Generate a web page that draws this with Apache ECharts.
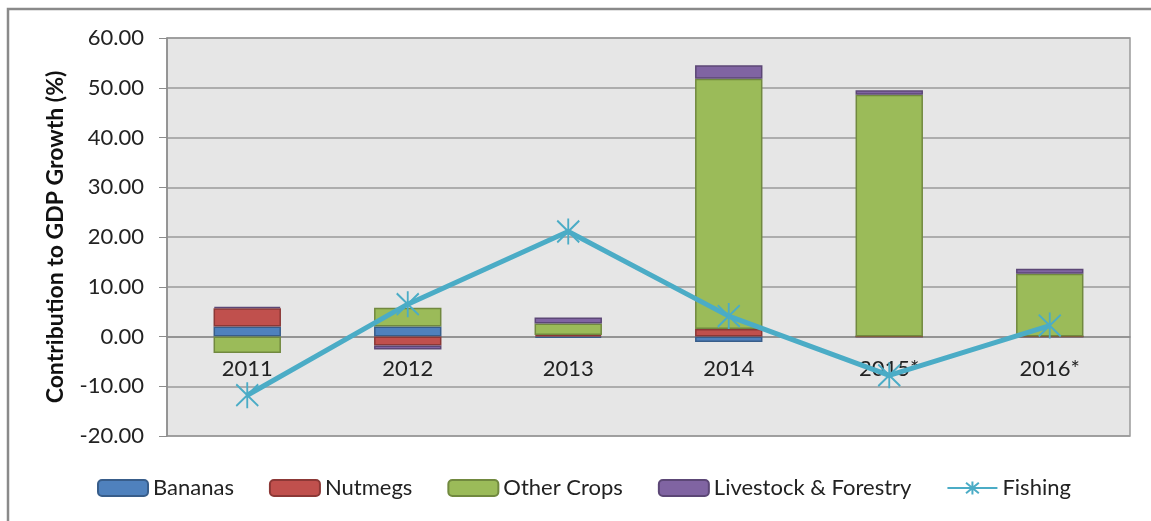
<!DOCTYPE html>
<html>
<head>
<meta charset="utf-8">
<script src="https://cdn.jsdelivr.net/npm/echarts@6/dist/echarts.min.js"></script>
<style>
	html, body { margin: 0; padding: 0; background: #fff; }
	#gdp-chart { width: 1151px; height: 521px; }
</style>
</head>
<body>
<div id="gdp-chart"></div>
<script>
var years = ['2011', '2012', '2013', '2014', '2015*', '2016*'];
var bananas = [2.0, 2.0, -0.3, -1.1, 0, 0];
var nutmegs = [3.7, -1.8, 0.3, 1.5, 0, 0];
var otherCrops = [-3.3, 3.8, 2.3, 50.3, 48.6, 12.6];
var livestock = [0.3, -0.8, 1.2, 2.7, 0.9, 1.0];
var fishing = [-11.8, 6.5, 21.1, 4.1, -7.8, 2.2];
var yTicks = [-20, 60, 10]; // min, max, step

var fontName = 'Lato';

function stackBar(name, data, fill, edge) {
	return {
		name: name,
		type: 'bar',
		stack: 'gdp',
		barWidth: '42%',
		data: data,
		itemStyle: {
			color: fill,
			borderColor: edge,
			borderWidth: 1.5
		}
	};
}

function initGdpChart() {
	var gdpOption = {
		animation: false,
		textStyle: { fontFamily: fontName },
		graphic: [{
			type: 'rect',
			shape: { x: 8, y: 9, width: 1300, height: 700 },
			style: { fill: 'none', stroke: '#8a8a8a', lineWidth: 2.5 },
			silent: true
		}],
		grid: {
			left: 167,
			top: 38,
			right: 21,
			bottom: 85,
			show: true,
			backgroundColor: '#e6e6e6',
			borderColor: '#9a9a9a',
			borderWidth: 1.5
		},
		legend: {
			left: 97,
			top: 477,
			padding: 0,
			itemWidth: 50,
			itemHeight: 16,
			itemGap: 35,
			textStyle: { fontSize: 22, color: '#222', fontFamily: fontName },
			data: ['Bananas', 'Nutmegs', 'Other Crops', 'Livestock & Forestry', 'Fishing']
		},
		xAxis: {
			type: 'category',
			data: years,
			axisLine: { onZero: false, lineStyle: { color: '#8c8c8c', width: 1.5 } },
			axisTick: { length: 6, lineStyle: { color: '#8c8c8c' } },
			axisLabel: { margin: 21, fontSize: 22, color: '#222' }
		},
		yAxis: {
			type: 'value',
			min: yTicks[0],
			max: yTicks[1],
			interval: yTicks[2],
			name: 'Contribution to GDP Growth (%)',
			nameLocation: 'middle',
			nameGap: 100,
			nameTextStyle: { fontSize: 23, fontWeight: 'bold', color: '#111' },
			axisLine: { show: true, lineStyle: { color: '#8c8c8c', width: 1.5 } },
			axisTick: { show: true, length: 8, lineStyle: { color: '#8c8c8c' } },
			axisLabel: {
				margin: 23,
				fontSize: 22,
				color: '#222',
				formatter: function(v) { return v.toFixed(2); }
			},
			splitLine: { lineStyle: { color: '#9a9a9a', width: 1.5 } }
		},
		series: [
			stackBar('Bananas', bananas, '#4F81BD', '#385D8A'),
			stackBar('Nutmegs', nutmegs, '#C0504D', '#8C3836'),
			stackBar('Other Crops', otherCrops, '#9BBB59', '#71893F'),
			stackBar('Livestock & Forestry', livestock, '#8064A2', '#5C4776'),
			{
				name: 'Fishing',
				type: 'line',
				data: fishing,
				z: 5,
				symbol: 'path://M0,0L20,20M20,0L0,20M10,-2L10,22',
				symbolSize: [22, 26],
				symbolKeepAspect: false,
				lineStyle: { color: '#4BACC6', width: 5 },
				itemStyle: {
					color: 'rgba(0,0,0,0)',
					borderColor: '#4BACC6',
					borderWidth: 2
				}
			}
		]
	};
	var gdpChart = echarts.init(document.getElementById('gdp-chart'));
	gdpChart.setOption(gdpOption);

	// move the category axis up to the zero line, like Excel does
	var zeroY = gdpChart.convertToPixel({ yAxisIndex: 0 }, 0);
	var bottomY = gdpChart.convertToPixel({ yAxisIndex: 0 }, yTicks[0]);
	gdpChart.setOption({ xAxis: { offset: zeroY - bottomY } });
}

initGdpChart();
</script>
</body>
</html>
